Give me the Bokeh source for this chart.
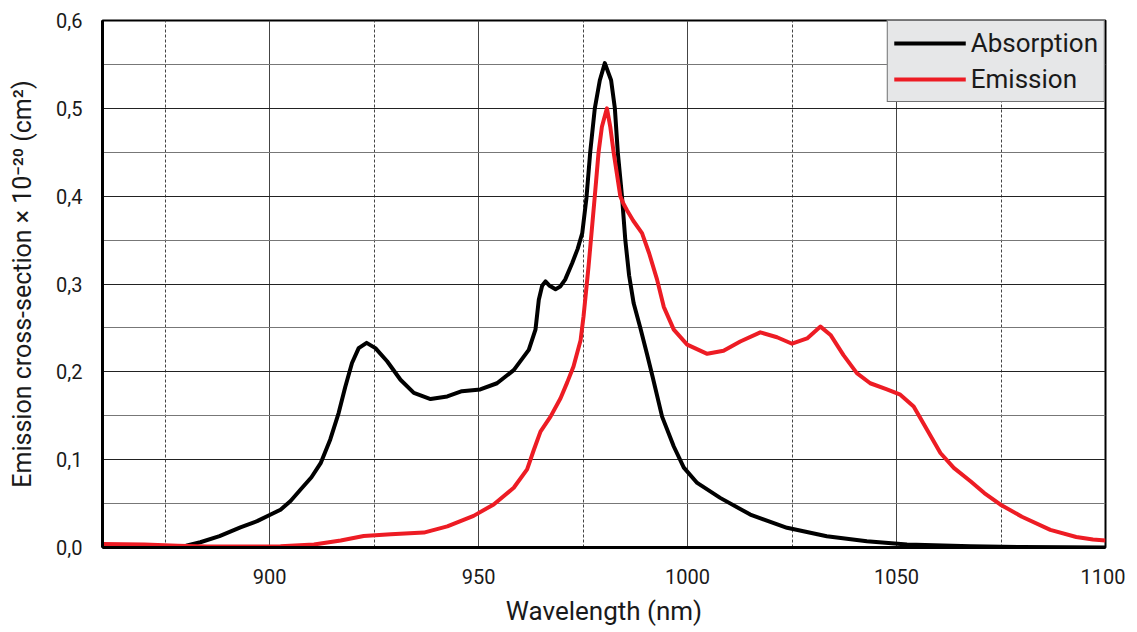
from bokeh.plotting import figure
from bokeh.models import Range1d, FixedTicker, CustomJSTickFormatter, Legend, LegendItem
from bokeh.embed import file_html
from bokeh.resources import INLINE

# ---- data ----
abs_x = [860, 870, 876, 880, 883.4, 888, 893, 897, 900, 902.6, 905, 907.4, 910, 912.2, 914.5,
         916.5, 918.1, 919.7, 921.3, 923.2, 925.3, 928.1, 931.3, 934.5, 938.5, 942.5, 946,
         950.4, 954.4, 958.4, 962, 963.6, 964.4, 965.2, 966, 967, 968.4, 969.5, 970.7, 972.4,
         973.7, 974.8, 975.8, 976.7, 977.8, 979, 980.2, 981.7, 982.6, 983.3, 984.3, 985.1,
         986, 987.1, 988.7, 990.3, 991.6, 993.9, 996.7, 999.1, 1002.3, 1007.8, 1015, 1023.8,
         1033.3, 1042.9, 1052.5, 1067.7, 1080, 1100]
abs_y = [0.0, 0.0, 0.0005, 0.002, 0.006, 0.013, 0.023, 0.03, 0.037, 0.043, 0.053, 0.066, 0.08,
         0.096, 0.123, 0.153, 0.183, 0.21, 0.227, 0.233, 0.227, 0.212, 0.191, 0.176, 0.169,
         0.172, 0.178, 0.18, 0.187, 0.202, 0.225, 0.248, 0.282, 0.298, 0.303, 0.298, 0.294,
         0.297, 0.305, 0.324, 0.34, 0.358, 0.398, 0.45, 0.5, 0.532, 0.5515, 0.532, 0.5, 0.45,
         0.4, 0.35, 0.31, 0.278, 0.25, 0.22, 0.195, 0.149, 0.115, 0.091, 0.0735, 0.0565,
         0.0375, 0.0224, 0.0129, 0.0072, 0.0034, 0.0015, 0.0005, 0.0]

emi_x = [860, 870, 878, 885, 895, 902.6, 910.6, 917, 922.5, 929, 936.9, 942.5, 948.8, 953.6,
         958.4, 961.6, 963.2, 964.8, 967.2, 969.6, 971.2, 972.7, 974.4, 975.1, 976.3, 977.8,
         978.7, 979.5, 980.7, 981.5, 982.3, 983.9, 984.6, 985.5, 987, 989.1, 990.8, 992.7,
         994.3, 996.7, 999.9, 1004.7, 1008.6, 1012.6, 1017.4, 1021.4, 1025, 1028.6, 1031.8,
         1034.2, 1037.3, 1040.5, 1043.7, 1047.7, 1050.9, 1054.1, 1057.3, 1060.5, 1063.7,
         1067.7, 1071, 1074.8, 1080, 1086.8, 1093, 1097, 1100]
emi_y = [0.004, 0.0035, 0.002, 0.001, 0.001, 0.0015, 0.0034, 0.008, 0.013, 0.015, 0.017, 0.024,
         0.036, 0.049, 0.068, 0.089, 0.111, 0.132, 0.149, 0.17, 0.188, 0.206, 0.236, 0.263,
         0.32, 0.4, 0.45, 0.479, 0.5, 0.479, 0.45, 0.4, 0.392, 0.384, 0.372, 0.358, 0.335,
         0.305, 0.274, 0.248, 0.231, 0.2205, 0.224, 0.2345, 0.245, 0.2394, 0.232, 0.238,
         0.2515, 0.242, 0.219, 0.1985, 0.187, 0.18, 0.174, 0.1606, 0.134, 0.1076, 0.0906,
         0.0754, 0.062, 0.049, 0.035, 0.02, 0.012, 0.009, 0.008]

x_major = [900, 950, 1000, 1050, 1100]
x_minor = [875, 925, 975, 1025, 1075]
y_major = [0.0, 0.1, 0.2, 0.3, 0.4, 0.5, 0.6]
y_minor = [0.05, 0.15, 0.25, 0.35, 0.45, 0.55]

FONT = "Roboto"

p = figure(width=1125, height=628, output_backend="svg", toolbar_location=None,
           x_range=Range1d(860, 1100), y_range=Range1d(0, 0.6),
           min_border_left=102, min_border_top=20, min_border_right=20, min_border_bottom=80)
p.background_fill_color = "white"
p.border_fill_color = "white"
p.outline_line_color = "black"
p.outline_line_width = 2

p.xaxis.ticker = FixedTicker(ticks=x_major, minor_ticks=x_minor)
p.yaxis.ticker = FixedTicker(ticks=y_major, minor_ticks=y_minor)
p.yaxis.formatter = CustomJSTickFormatter(code="return tick.toFixed(1).replace('.', ',');")

for ax in (p.xaxis, p.yaxis):
    ax.major_tick_line_color = None
    ax.minor_tick_line_color = None
    ax.axis_line_color = "black"
    ax.axis_line_width = 3
    ax.major_label_text_font = FONT
    ax.major_label_text_font_size = "20px"
    ax.major_label_text_color = "#1a1a1a"
    ax.axis_label_text_font = FONT
    ax.axis_label_text_font_style = "normal"
    ax.axis_label_text_color = "#1a1a1a"

p.xaxis.axis_label = "Wavelength (nm)"
p.yaxis.axis_label = "Emission cross-section × 10⁻²⁰ (cm²)"
p.xaxis.axis_label_text_font_size = "26px"
p.yaxis.axis_label_text_font_size = "25px"
p.xaxis.major_label_standoff = 15
p.xaxis.axis_label_standoff = 9
p.yaxis.major_label_standoff = 14
p.yaxis.axis_label_standoff = 16

p.xgrid.grid_line_color = "#444444"
p.xgrid.grid_line_width = 1
p.xgrid.minor_grid_line_color = "#444444"
p.xgrid.minor_grid_line_dash = "3 2"
p.xgrid.minor_grid_line_width = 1
p.ygrid.grid_line_color = "#222222"
p.ygrid.grid_line_width = 1
p.ygrid.minor_grid_line_color = "#777777"
p.ygrid.minor_grid_line_width = 1.2

r_abs = p.line(abs_x, abs_y, line_color="black", line_width=4, line_join="round")
r_emi = p.line(emi_x, emi_y, line_color="#ed1c24", line_width=4, line_join="round")

legend = Legend(items=[LegendItem(label="Absorption", renderers=[r_abs]),
                       LegendItem(label="Emission", renderers=[r_emi])],
                location="top_right")
legend.margin = 0
legend.padding = 6
legend.spacing = 4
legend.label_height = 32
legend.glyph_height = 32
legend.glyph_width = 72
legend.label_standoff = 5
legend.label_text_font = FONT
legend.label_text_font_size = "26px"
legend.label_text_color = "#1a1a1a"
legend.background_fill_color = "#e6e7e8"
legend.background_fill_alpha = 1.0
legend.border_line_color = "black"
legend.border_line_width = 1.5
p.add_layout(legend)

open("out.html", "w").write(file_html(p, INLINE))
